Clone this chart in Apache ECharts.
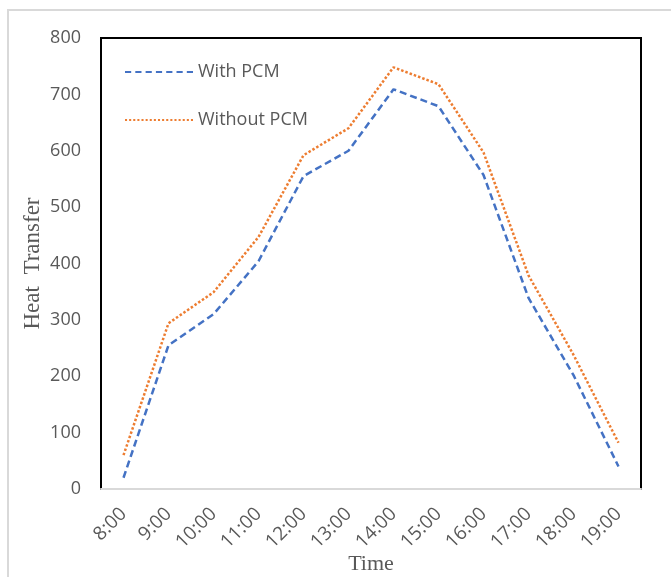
<!DOCTYPE html>
<html>
<head>
<meta charset="utf-8">
<title>Heat Transfer</title>
<script src="https://cdn.jsdelivr.net/npm/echarts@6/dist/echarts.min.js"></script>
<style>
  html, body { margin: 0; padding: 0; background: #fff; }
  #main { width: 671px; height: 577px; }
</style>
</head>
<body>
<div id="main"></div>
<script>
// categories and values
var times = ['8:00', '9:00', '10:00', '11:00', '12:00', '13:00', '14:00', '15:00', '16:00', '17:00', '18:00', '19:00'];
var withPCM = [20, 255, 310, 404, 555, 600, 709, 679, 557, 339, 202, 40];
var withoutPCM = [60, 294, 349, 447, 592, 640, 748, 718, 597, 379, 238, 82];

var chart = echarts.init(document.getElementById('main'));

var option = {
    backgroundColor: '#fff',
    animation: false,
    graphic: [{
        type: 'rect',
        shape: { x: 8, y: 10, width: 700, height: 620 },
        style: { fill: 'none', stroke: '#d9d9d9', lineWidth: 2 },
        silent: true
    }],
    legend: {
        left: 120,
        top: 58,
        orient: 'vertical',
        itemGap: 30,
        itemWidth: 68,
        itemHeight: 3,
        textStyle: { color: '#595959', fontSize: 18, fontFamily: 'Open Sans' },
        data: [
            { name: 'With PCM', icon: 'path://M0,0H6V2H0Z M10,0H16V2H10Z M20,0H26V2H20Z M30,0H36V2H30Z M40,0H46V2H40Z M50,0H56V2H50Z M60,0H66V2H60Z' },
            { name: 'Without PCM', icon: 'path://M0,0H2V2H0Z M4,0H6V2H4Z M8,0H10V2H8Z M12,0H14V2H12Z M16,0H18V2H16Z M20,0H22V2H20Z M24,0H26V2H24Z M28,0H30V2H28Z M32,0H34V2H32Z M36,0H38V2H36Z M40,0H42V2H40Z M44,0H46V2H44Z M48,0H50V2H48Z M52,0H54V2H52Z M56,0H58V2H56Z M60,0H62V2H60Z M64,0H66V2H64Z' }
        ]
    },
    grid: {
        left: 101,
        top: 38,
        width: 540,
        height: 451,
        show: true,
        borderColor: '#000',
        borderWidth: 2,
        containLabel: false,
        outerBoundsMode: 'none'
    },
    xAxis: {
        type: 'category',
        data: times,
        boundaryGap: true,
        name: 'Time',
        nameLocation: 'middle',
        nameGap: 64,
        nameMoveOverlap: false,
        nameTextStyle: { fontFamily: 'Liberation Serif', fontSize: 22, color: '#595959' },
        axisLine: { show: true, lineStyle: { color: '#d9d9d9', width: 2 } },
        axisTick: { show: false },
        axisLabel: {
            rotate: 45,
            margin: 22,
            interval: 0,
            color: '#595959',
            fontSize: 19,
            fontFamily: 'Open Sans'
        },
        splitLine: { show: false }
    },
    yAxis: {
        type: 'value',
        min: 0,
        max: 800,
        interval: 100,
        name: 'Heat  Transfer',
        nameLocation: 'middle',
        nameGap: 57,
        nameMoveOverlap: false,
        nameTextStyle: { fontFamily: 'Liberation Serif', fontSize: 23, color: '#595959' },
        axisLine: { show: false },
        axisTick: { show: false },
        axisLabel: {
            margin: 20,
            color: '#595959',
            fontSize: 18,
            fontFamily: 'Open Sans'
        },
        splitLine: { show: false }
    },
    series: [
        {
            name: 'With PCM',
            type: 'line',
            data: withPCM,
            symbol: 'none',
            itemStyle: { color: '#4472C4' },
            lineStyle: { color: '#4472C4', width: 2.5, type: [7, 4] }
        },
        {
            name: 'Without PCM',
            type: 'line',
            data: withoutPCM,
            symbol: 'none',
            itemStyle: { color: '#ED7D31' },
            lineStyle: { color: '#ED7D31', width: 2.5, type: [2.5, 2] }
        }
    ]
};

chart.setOption(option);
</script>
</body>
</html>
